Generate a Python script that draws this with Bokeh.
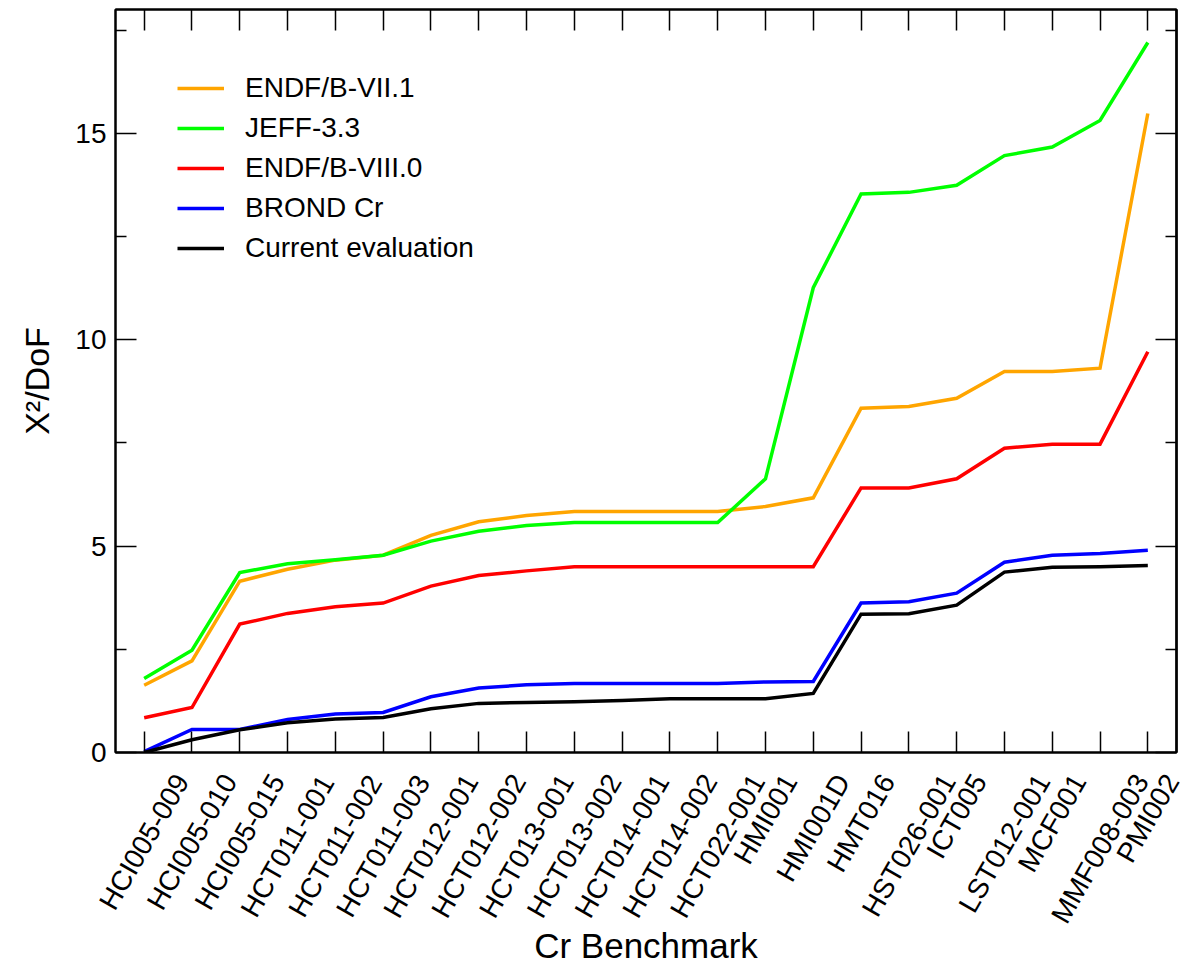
import math

from bokeh.plotting import figure
from bokeh.layouts import column
from bokeh.models import Range1d, FixedTicker, LinearAxis, ColumnDataSource
from bokeh.core.properties import value
from bokeh.embed import file_html
from bokeh.resources import INLINE

# Benchmark names along the x axis
benchmarks = [
    "HCI005-009", "HCI005-010", "HCI005-015", "HCT011-001", "HCT011-002", "HCT011-003",
    "HCT012-001", "HCT012-002", "HCT013-001", "HCT013-002", "HCT014-001", "HCT014-002",
    "HCT022-001", "HMI001", "HMI001D", "HMT016", "HST026-001", "ICT005", "LST012-001",
    "MCF001", "MMF008-003", "PMI002",
]

# Cumulative chi-square per degree of freedom for each evaluated library
endf_b_vii_1 = [1.63, 2.22, 4.15, 4.44, 4.66, 4.78, 5.26, 5.59, 5.74, 5.84, 5.84,
                5.84, 5.84, 5.96, 6.17, 8.34, 8.38, 8.58, 9.23, 9.23, 9.31, 15.48]
jeff_3_3 = [1.79, 2.48, 4.36, 4.57, 4.67, 4.78, 5.12, 5.36, 5.50, 5.57, 5.57,
            5.57, 5.57, 6.63, 11.26, 13.53, 13.57, 13.74, 14.46, 14.67, 15.31, 17.20]
endf_b_viii_0 = [0.84, 1.09, 3.11, 3.37, 3.53, 3.62, 4.03, 4.29, 4.40, 4.50, 4.50,
                 4.50, 4.50, 4.50, 4.50, 6.41, 6.41, 6.63, 7.37, 7.47, 7.47, 9.71]
brond_cr = [0.02, 0.56, 0.56, 0.80, 0.93, 0.97, 1.35, 1.56, 1.64, 1.67, 1.67,
            1.67, 1.67, 1.71, 1.72, 3.62, 3.65, 3.86, 4.61, 4.78, 4.82, 4.90]
current_eval = [0.00, 0.31, 0.55, 0.72, 0.81, 0.85, 1.06, 1.19, 1.21, 1.23, 1.26,
                1.30, 1.30, 1.30, 1.43, 3.35, 3.36, 3.57, 4.37, 4.49, 4.50, 4.53]

y_major = [0, 5, 10, 15]
y_minor = [2.5, 7.5, 12.5, 17.5]

series = [
    ("ENDF/B-VII.1", endf_b_vii_1, "#FFA500"),
    ("JEFF-3.3", jeff_3_3, "#00FF00"),
    ("ENDF/B-VIII.0", endf_b_viii_0, "#FF0000"),
    ("BROND Cr", brond_cr, "#0000FF"),
    ("Current evaluation", current_eval, "#000000"),
]

FONT = "Liberation Sans"
TICK_FONT_PX = 28
TOTAL_W, TOTAL_H = 1184, 968
BORDER_L, BORDER_R, BORDER_T = 115, 8, 9
FRAME_BOTTOM = 752      # page y of the plot frame's lower edge
MAIN_H = 770            # plot panel height (room for the "0" tick label)
NAMES_H = TOTAL_H - MAIN_H
NAMES_TOP = 771         # page y of the highest point of the rotated names
TITLE_MID = 945         # page y of the middle of the x-axis title

# benchmark i sits at position i + 1
xpos = list(range(1, len(benchmarks) + 1))
x_range = Range1d(0.4, len(benchmarks) + 0.6)

p = figure(
    width=TOTAL_W, height=MAIN_H,
    x_range=x_range, y_range=Range1d(0, 18),
    output_backend="svg", toolbar_location=None,
    min_border_left=BORDER_L, min_border_right=BORDER_R, min_border_top=BORDER_T,
    min_border_bottom=MAIN_H - FRAME_BOTTOM,
)
p.frame_align = False
p.grid.visible = False
p.outline_line_color = "black"
p.outline_line_width = 2
p.background_fill_color = "white"
p.border_fill_color = "white"

for name, vals, color in series:
    p.line(xpos, vals, line_color=color, line_width=3.5, line_join="miter",
           legend_label=name)


# --- axes -------------------------------------------------------------------
def style_common(ax):
    ax.axis_line_color = "black"
    ax.axis_line_width = 2
    for kind in ("major", "minor"):
        setattr(ax, f"{kind}_tick_line_color", "black")
        setattr(ax, f"{kind}_tick_line_width", 1.5)
        setattr(ax, f"{kind}_tick_out", 0)
    ax.major_label_standoff = 0


def tick_only_axis(positions, length):
    # an unlabeled axis: its marks are drawn as minor ticks only
    ax = LinearAxis(ticker=FixedTicker(ticks=[], minor_ticks=positions))
    style_common(ax)
    ax.minor_tick_in = length
    return ax


xb = p.xaxis[0]
xb.ticker = FixedTicker(ticks=[], minor_ticks=xpos)
style_common(xb)
xb.minor_tick_in = 21

yl = p.yaxis[0]
yl.ticker = FixedTicker(ticks=y_major, minor_ticks=y_minor)
style_common(yl)
yl.major_tick_in = 21
yl.minor_tick_in = 11
yl.major_label_text_font = FONT
yl.major_label_text_font_size = f"{TICK_FONT_PX}px"
yl.major_label_text_color = "black"
yl.major_label_standoff = 9
yl.axis_label = "Χ²/DoF"
yl.axis_label_text_font = FONT
yl.axis_label_text_font_size = "34px"
yl.axis_label_text_font_style = "normal"
yl.axis_label_text_color = "black"
yl.axis_label_standoff = 16

p.add_layout(tick_only_axis(xpos, 21), "above")
p.add_layout(tick_only_axis(y_major, 21), "right")
p.add_layout(tick_only_axis(y_minor, 11), "right")

# --- legend -----------------------------------------------------------------
leg = p.legend[0]
leg.location = (62, 488)
leg.glyph_width = 47
leg.glyph_height = 32
leg.label_height = 32
leg.label_standoff = 21
leg.spacing = 8
leg.padding = 0
leg.margin = 0
leg.border_line_alpha = 0
leg.background_fill_alpha = 0
leg.label_text_font = FONT
leg.label_text_font_size = "28px"
leg.label_text_color = "black"

# --- strip under the plot with the rotated benchmark names ------------------
# Its frame spans the full page width; the x range is widened so that the
# benchmark positions line up with the plot above. y is in pixels, measured
# down from the strip's top edge.
px_per_unit = (TOTAL_W - BORDER_L - BORDER_R) / (x_range.end - x_range.start)
names_x_range = Range1d(x_range.start - BORDER_L / px_per_unit,
                        x_range.end + BORDER_R / px_per_unit)
names = figure(
    width=TOTAL_W, height=NAMES_H,
    x_range=names_x_range, y_range=Range1d(-NAMES_H, 0),
    output_backend="svg", toolbar_location=None,
    x_axis_location=None, y_axis_location=None,
    min_border_left=0, min_border_right=0, min_border_top=0, min_border_bottom=0,
)
names.frame_align = False
names.grid.visible = False
names.outline_line_color = None
names.background_fill_color = "white"
names.border_fill_color = "white"

ARIAL_W = {"H": 722, "C": 722, "I": 278, "T": 611, "M": 833, "D": 722, "S": 667,
           "L": 556, "F": 611, "P": 667, "-": 333}
for d in "0123456789":
    ARIAL_W[d] = 556
ANGLE = math.radians(60)


def text_len(s, px):
    return sum(ARIAL_W[c] for c in s) / 1000.0 * px


top_gap = NAMES_TOP - MAIN_H  # strip top to the highest point of each name
cap = 0.72 * TICK_FONT_PX
centre_y = [-(top_gap + 0.5 * text_len(b, TICK_FONT_PX) * math.sin(ANGLE)
              + 0.5 * cap * math.cos(ANGLE)) for b in benchmarks]
names.text(
    x="x", y="y", text="text",
    source=ColumnDataSource(dict(x=xpos, y=centre_y, text=benchmarks)),
    angle=ANGLE, text_align="center", text_baseline="middle",
    text_font=value(FONT), text_font_size=value(f"{TICK_FONT_PX}px"), text_color="black",
)

# x-axis title, centred under the frame
names.text(
    x=[(x_range.start + x_range.end) / 2], y=[-(TITLE_MID - MAIN_H)], text=["Cr Benchmark"],
    text_align="center", text_baseline="middle",
    text_font=value(FONT), text_font_size=value("35px"), text_color="black",
)

open("out.html", "w").write(file_html(column(p, names, spacing=0), INLINE))
